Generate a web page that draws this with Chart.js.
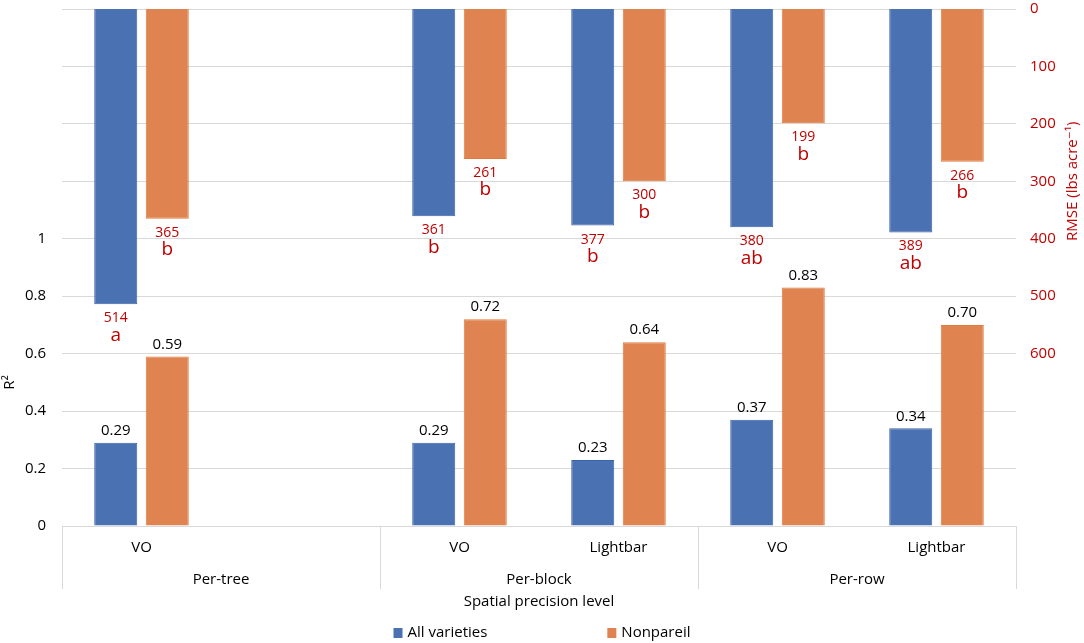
<!DOCTYPE html>
<html>
<head>
<meta charset="utf-8">
<script src="https://cdn.jsdelivr.net/npm/chart.js@4.4.0/dist/chart.umd.min.js"></script>
<style>
  body { margin: 0; background: #fff; }
  #wrap { width: 1084px; height: 643px; }
</style>
</head>
<body>
<div id="wrap"><canvas id="chart" width="1084" height="643"></canvas></div>
<script>
const categories = ['VO', '', 'VO', 'Lightbar', 'VO', 'Lightbar'];
const groups = ['Per-tree', 'Per-block', 'Per-row'];
const groupSpans = [2, 2, 2];
const seriesNames = ['All varieties', 'Nonpareil'];
const r2All = [0.29, null, 0.29, 0.23, 0.37, 0.34];
const r2Nonpareil = [0.59, null, 0.72, 0.64, 0.83, 0.70];
const rmseAll = [514, null, 361, 377, 380, 389];
const rmseNonpareil = [365, null, 261, 300, 199, 266];
const lettersAll = ['a', '', 'b', 'b', 'ab', 'ab'];
const lettersNonpareil = ['b', '', 'b', 'b', 'b', 'b'];
const r2Ticks = [0, 0.2, 0.4, 0.6, 0.8, 1];
const rmseTicks = [0, 100, 200, 300, 400, 500, 600];

const BLUE = '#4a71b1';
const BLUE_EDGE = '#3c63a9';
const ORANGE = '#df8450';
const ORANGE_EDGE = '#e2793b';
const RED = '#c00000';
const GRID = '#d9d9d9';
const FONT = '"Open Sans", "DejaVu Sans", sans-serif';

const annotate = {
    id: 'annotate',
    afterDatasetsDraw(chart) {
        const ctx = chart.ctx;
        ctx.save();
        ctx.textAlign = 'center';
        ctx.textBaseline = 'middle';

        // R2 values above the bars
        [0, 1].forEach(di => {
            const values = chart.data.datasets[di].data;
            chart.getDatasetMeta(di).data.forEach((bar, i) => {
                if (values[i] == null) return;
                ctx.fillStyle = '#000';
                ctx.font = `15px ${FONT}`;
                ctx.fillText(values[i].toFixed(2), bar.x, bar.y - 12);
            });
        });

        // RMSE values and letters under the hanging bars
        [[2, lettersAll], [3, lettersNonpareil]].forEach(([di, letters]) => {
            const values = chart.data.datasets[di].data;
            chart.getDatasetMeta(di).data.forEach((bar, i) => {
                if (values[i] == null) return;
                ctx.fillStyle = RED;
                ctx.font = `14px ${FONT}`;
                ctx.fillText(String(values[i]), bar.x, bar.y + 14);
                ctx.font = `19px ${FONT}`;
                ctx.fillText(letters[i], bar.x, bar.y + 31);
            });
        });
        ctx.restore();
    },
    afterDraw(chart) {
        const { ctx, chartArea, scales } = chart;
        const x = scales.x;
        const step = (x.right - x.left) / categories.length;
        const bottom = chartArea.bottom;
        ctx.save();
        ctx.textAlign = 'center';
        ctx.textBaseline = 'middle';
        ctx.fillStyle = '#000';
        ctx.font = `15px ${FONT}`;

        categories.forEach((c, i) => {
            ctx.fillText(c, x.getPixelForValue(i), bottom + 22);
        });

        ctx.strokeStyle = GRID;
        ctx.lineWidth = 1;
        let k = 0;
        const edges = [0];
        groupSpans.forEach(s => { k += s; edges.push(k); });
        edges.forEach(e => {
            const px = Math.round(x.left + e * step) + 0.5;
            ctx.beginPath();
            ctx.moveTo(px, bottom);
            ctx.lineTo(px, bottom + 63);
            ctx.stroke();
        });
        groups.forEach((g, gi) => {
            const mid = x.left + (edges[gi] + edges[gi + 1]) / 2 * step;
            ctx.fillText(g, mid, bottom + 54);
        });

        ctx.fillText('Spatial precision level', (x.left + x.right) / 2, bottom + 76);

        // axis titles centred on the labelled part of each axis
        const y = scales.y;
        const y2 = scales.y2;
        ctx.save();
        ctx.translate(10, (y.getPixelForValue(0) + y.getPixelForValue(1)) / 2);
        ctx.rotate(-Math.PI / 2);
        ctx.fillText('R²', 0, 0);
        ctx.restore();

        ctx.save();
        ctx.fillStyle = RED;
        ctx.translate(1073, (y2.getPixelForValue(0) + y2.getPixelForValue(600)) / 2);
        ctx.rotate(-Math.PI / 2);
        ctx.fillText('RMSE (lbs acre⁻¹)', 0, 0);
        ctx.restore();

        // legend
        const box = 9, gap = 5, between = 120;
        const w1 = ctx.measureText(seriesNames[0]).width;
        const w2 = ctx.measureText(seriesNames[1]).width;
        const total = box + gap + w1 + between + box + gap + w2;
        let lx = chart.width / 2 - total / 2;
        const ly = 633;
        ctx.textAlign = 'left';
        [[BLUE, seriesNames[0], w1], [ORANGE, seriesNames[1], w2]].forEach(([col, name, w]) => {
            ctx.fillStyle = col;
            ctx.fillRect(lx, ly - 5, box, 10);
            ctx.fillStyle = '#000';
            ctx.fillText(name, lx + box + gap, ly);
            lx += box + gap + w + between;
        });
        ctx.restore();
    }
};

const barStyle = { borderWidth: 1, barPercentage: 0.835, categoryPercentage: 0.648 };

new Chart(document.getElementById('chart'), {
    type: 'bar',
    data: {
        labels: categories,
        datasets: [
            { label: seriesNames[0], data: r2All, yAxisID: 'y', stack: 'all',
              backgroundColor: BLUE, borderColor: BLUE_EDGE, ...barStyle },
            { label: seriesNames[1], data: r2Nonpareil, yAxisID: 'y', stack: 'non',
              backgroundColor: ORANGE, borderColor: ORANGE_EDGE, ...barStyle },
            { label: seriesNames[0] + ' RMSE', data: rmseAll, yAxisID: 'y2', stack: 'all',
              backgroundColor: BLUE, borderColor: BLUE_EDGE, ...barStyle },
            { label: seriesNames[1] + ' RMSE', data: rmseNonpareil, yAxisID: 'y2', stack: 'non',
              backgroundColor: ORANGE, borderColor: ORANGE_EDGE, ...barStyle }
        ]
    },
    options: {
        responsive: false,
        animation: false,
        layout: { padding: 0 },
        plugins: {
            legend: { display: false },
            tooltip: { enabled: false }
        },
        scales: {
            x: {
                stacked: true,
                grid: { display: false },
                border: { color: GRID },
                ticks: { display: false },
                afterFit: scale => { scale.height = 117; }
            },
            y: {
                position: 'left',
                stacked: false,
                min: 0,
                max: 1.8,
                grid: { color: GRID, drawTicks: false },
                border: { display: false },
                ticks: {
                    stepSize: 0.2,
                    padding: 16,
                    color: '#000',
                    font: { family: FONT, size: 15 },
                    callback: v => {
                        const r = +v.toFixed(1);
                        return r2Ticks.includes(r) ? String(r) : '';
                    }
                },
                afterFit: scale => {
                    scale.width = 62;
                    scale.paddingTop = 9;
                    scale.paddingBottom = 0;
                }
            },
            y2: {
                position: 'right',
                stacked: false,
                reverse: true,
                min: 0,
                max: 900,
                grid: { display: false, drawTicks: false },
                border: { display: false },
                ticks: {
                    stepSize: 100,
                    padding: 14,
                    color: RED,
                    font: { family: FONT, size: 15 },
                    callback: v => rmseTicks.includes(v) ? String(v) : ''
                },
                afterFit: scale => {
                    scale.width = 68;
                    scale.paddingTop = 9;
                    scale.paddingBottom = 0;
                }
            }
        }
    },
    plugins: [annotate]
});
</script>
</body>
</html>
